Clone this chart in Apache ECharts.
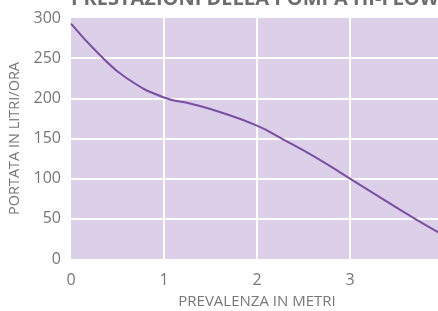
<!DOCTYPE html>
<html><head><meta charset="utf-8">
<script src="https://cdn.jsdelivr.net/npm/echarts@6/dist/echarts.min.js"></script>
<style>html,body{margin:0;padding:0;background:#fff}#c{width:438px;height:311px}</style>
</head><body><div id="c"></div>
<script>
const title = "PRESTAZIONI DELLA POMPA HI-FLOW";
const xName = "PREVALENZA IN METRI";
const yName = "PORTATA IN LITRI/ORA";
const prevalenza = [0, 0.31, 0.6, 1.0, 1.3, 1.6, 2.0, 2.28, 2.64, 3.0, 3.25, 3.7, 4.0];
const portata =    [293, 254, 225, 201, 193, 183, 166, 149, 126, 100, 82, 50, 30];

const chart = echarts.init(document.getElementById('c'), null, {renderer:'canvas'});
const font = "'Open Sans', 'Noto Sans', sans-serif";
chart.setOption({
  animation:false,
  title:{text:title, left:71, top:-11, padding:0, textStyle:{fontFamily:font, fontSize:20, fontWeight:'bold', color:'#6d6d6d'}},
  grid:{left:71, top:18, width:372, height:241, containLabel:false, outerBoundsMode:'none', show:true, backgroundColor:'#dbd0e8', borderWidth:0},
  xAxis:{type:'value', min:0, max:4, interval:1,
    name:xName, nameLocation:'middle', nameGap:35,
    nameTextStyle:{fontFamily:font, fontSize:15, color:'#777'},
    axisLine:{show:false}, axisTick:{show:false},
    axisLabel:{fontFamily:font, fontSize:16, color:'#777', margin:13, showMaxLabel:true, hideOverlap:false},
    splitLine:{show:true, showMinLine:false, showMaxLine:false, lineStyle:{color:'#fff', width:2}}},
  yAxis:{type:'value', min:0, max:300, interval:50,
    name:yName, nameLocation:'middle', nameGap:43,
    nameTextStyle:{fontFamily:font, fontSize:14.5, color:'#777'},
    axisLine:{show:false}, axisTick:{show:false},
    axisLabel:{fontFamily:font, fontSize:16, color:'#777', margin:10},
    splitLine:{show:true, showMinLine:false, showMaxLine:false, lineStyle:{color:'#fff', width:2}}},
  series:[{type:'line', smooth:true, showSymbol:false,
    data: prevalenza.map((x,i)=>[x, portata[i]]),
    lineStyle:{color:'#7a4ea3', width:2}}]
});
</script></body></html>
